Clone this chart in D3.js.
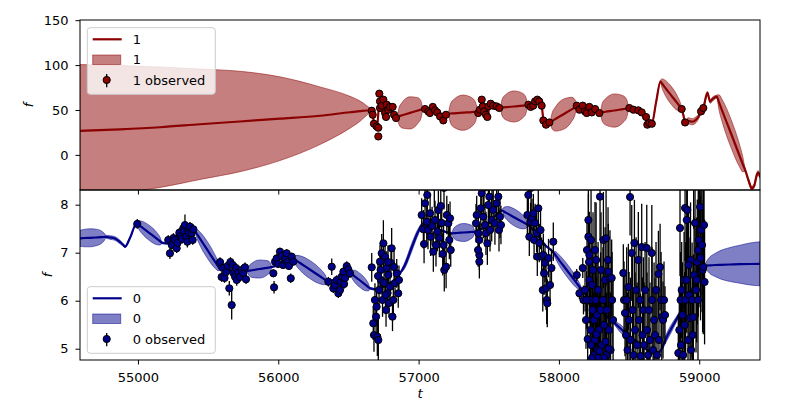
<!DOCTYPE html>
<html><head><meta charset="utf-8">
<script src="https://cdn.jsdelivr.net/npm/d3@7"></script>
<style>body{margin:0;background:#fff}svg{display:block;font-family:"DejaVu Sans",sans-serif}</style>
</head><body><svg id="c" width="800" height="400"></svg>
<script>
// ---------- data ----------
const xTicks=[55000,56000,57000,58000,59000];
const topYTicks=[0,50,100,150];
const botYTicks=[5,6,7,8];
const xDomain=[54587,59433];
const topYDomain=[-39.1,150.2];
const botYDomain=[4.765,8.306];

// series "1" model (top panel)
const topModelT=[54587,54872,55157,55442,55727,56012,56297,56511,56583,56630,56661,
56686,56704,56722,56747,56768,56796,56825,56846,
56861,56883,56939,56995,57017,57032,
57046,57082,57103,57131,57153,57178,57203,
57210,57227,57253,57317,57381,57406,57424,
57434,57452,57473,57491,57509,57538,57573,
57580,57596,57620,57680,57740,57764,57780,
57794,57830,57851,57876,57890,57915,57937,
57952,57975,58033,58091,58113,58129,
58143,58172,58193,58215,58236,58257,58290,
58293,58309,58334,58396,58458,58483,58500,
58528,58564,58592,58621,58635,58662,
58692,58724,
58736,58754,58800,58845,58863,58875,
58888,58899,58920,58949,58977,58999,59013,59029,59058,59077,59098,59125,
59141,59165,59226,59286,59310,59327,
59355,59374,59391,59410,59419,59433];
const topModelMean=[26.8,28.5,30.8,34.1,37.2,40.3,43.6,47.5,48.7,49.4,49.2,
34.7,31.3,61.5,60.4,48.1,51.5,45.9,42.5,
43.2,44.2,46.8,49.4,50.4,51.1,
50.9,48.1,52.6,48.7,43.6,40.3,45.9,
45.9,46.1,46.3,47.0,47.7,47.9,48.1,
49.2,59.3,50.3,44.7,54.8,54.8,52.6,
52.6,52.8,53.1,53.9,54.8,55.1,55.4,
54.8,59.3,61.0,55.9,39.2,34.7,36.4,
37.8,39.9,45.3,50.7,52.8,54.3,
51.5,53.7,47.5,52.6,48.1,50.3,47.0,
47.0,47.4,48.0,49.4,51.0,51.6,52.0,
50.3,49.6,47.5,42.5,34.7,34.7,
58.2,81.7,
79.2,75.5,66.3,57.3,53.6,51.1,
43.6,36.1,38.0,36.9,39.2,43.6,48.4,52.2,69.0,59.6,62.6,64.9,
58.4,48.5,24.1,-0.4,-10.3,-16.8,
-30.2,-37.2,-34.7,-22.4,-19.6,-24.3];
const topModelSd=[73.8,71.0,67.1,61.5,55.9,46.6,32.1,17.7,11.2,5.4,1.1,
1.1,1.1,1.1,1.1,1.1,1.1,1.1,1.1,
9.6,14.3,17.9,14.3,9.6,1.1,
1.1,1.1,1.1,1.1,1.1,1.1,1.1,
1.1,10.6,15.7,19.6,15.7,10.6,1.1,
1.1,1.1,1.1,1.1,1.1,1.1,1.1,
1.1,9.4,13.9,17.3,13.9,9.4,1.1,
1.1,1.1,1.1,1.1,1.1,1.1,1.1,
9.1,13.4,16.8,13.4,9.1,1.1,
1.1,1.1,1.1,1.1,1.1,1.1,1.1,
1.1,10.0,14.8,18.5,14.8,10.0,1.1,
1.1,1.1,1.1,1.1,1.1,1.1,
1.7,1.7,
5.4,8.0,10.0,8.0,5.4,1.1,
1.7,1.7,3.4,3.4,3.4,2.2,1.7,1.7,1.7,2.2,2.2,1.7,
8.5,12.6,15.7,12.6,8.5,1.7,
2.2,2.2,2.2,2.2,2.2,2.2];

// series "1" observed
const topObsT=[56666,56673,56682,56701,56713,56713,56720,56725,56725,56737,56749,56761,56768,56773,56784,56796,56815,56825,56839,
57046,57069,57081,57101,57117,57133,57153,57176,57195,
57425,57437,57450,57457,57466,57480,57490,57497,57514,57532,57556,57575,
57782,57799,57817,57830,57846,57860,57877,57889,57908,57932,
58127,58146,58170,58186,58198,58217,58234,58258,58288,
58502,58531,58566,58590,58621,58630,58645,58662,
58875,58899,59013,59029];
const topObsF=[49.2,44.7,34.7,31.7,20.5,30.2,68.2,59.6,52.2,54.8,61.5,46.6,42.2,55.9,50.3,53.4,53.4,44.7,41.0,
51.1,48.4,46.6,53.4,49.6,47.3,42.8,38.4,44.7,
46.6,50.3,61.5,54.0,48.4,44.7,42.2,54.0,57.0,54.8,54.0,52.2,
55.9,53.4,54.8,59.6,61.5,59.6,54.8,38.4,33.6,36.1,
54.8,50.3,54.8,48.4,46.6,53.4,47.3,51.1,46.6,
52.2,50.3,49.6,47.3,42.2,33.6,35.5,34.7,
51.1,36.1,48.4,52.2];
const topObsErr=[2,2,2,2,3,2,2,2,2,2,2,2,2,2,2,2,2,2,2,
2,2,2,2,2,2,2,2,2,
2,2,2,2,2,2,2,2,2,2,2,2,
2,2,2,2,2,2,2,2,2,2,
2,2,2,2,2,2,2,2,2,
2,2,2,2,2,2,2,2,
2,2,2,2];

// series "0" model (bottom panel)
const botModelT=[54587,54623,54658,54701,54737,54758,54772,54801,54836,54872,54896,54908,54943,54991,
55005,55027,55082,55136,55157,55171,
55205,55252,55300,55348,55395,
55407,55421,55442,55496,55549,55571,55585,
55656,55727,55777,
55792,55813,55866,55920,55941,55955,
56012,56062,56105,
56125,56155,56230,56305,56335,56355,
56392,56440,56476,56511,
56523,56540,56583,56625,56642,56654,
56704,56749,56796,56844,56868,
56903,56951,56996,57032,
57082,57153,57236,
57250,57270,57320,57369,57389,57402,
57459,57509,57552,57595,
57610,57632,57687,57743,57765,57780,
57830,57901,57958,
57975,57999,58061,58123,58148,58165,
58222,58293,58386,
58443,58507,
58578,58649,58699,
58781,58863,
58935,58984,59041,
59056,59077,59113,59148,59220,59291,59362,59433];
const botModelMean=[7.300,7.306,7.310,7.317,7.323,7.327,7.331,7.317,7.296,7.223,7.160,7.125,7.306,7.613,
7.579,7.531,7.410,7.290,7.242,7.208,
7.196,7.265,7.417,7.488,7.473,
7.452,7.388,7.292,7.052,6.815,6.719,6.654,
6.640,6.608,6.619,
6.625,6.635,6.660,6.685,6.696,6.702,
6.779,6.848,6.883,
6.844,6.785,6.640,6.494,6.435,6.396,
6.431,6.488,6.556,6.583,
6.558,6.519,6.421,6.323,6.283,6.258,
6.233,6.292,6.369,6.467,6.571,
6.744,7.108,7.431,7.598,
7.556,7.473,7.404,
7.406,7.410,7.421,7.431,7.435,7.438,
7.515,7.640,7.785,7.879,
7.854,7.819,7.727,7.638,7.602,7.577,
7.431,7.160,7.015,
6.952,6.856,6.619,6.381,6.285,6.223,
6.015,5.806,5.563,
5.410,5.244,
5.098,4.931,4.890,
5.317,5.744,
6.119,6.390,6.723,
6.733,6.738,6.744,6.748,6.754,6.760,6.765,6.769];
const botModelSd=[0.167,0.183,0.188,0.173,0.135,0.083,0.031,0.038,0.038,0.038,0.025,0.02,0.02,0.02,
0.084,0.125,0.156,0.125,0.084,0.02,
0.02,0.02,0.02,0.02,0.02,
0.02,0.094,0.138,0.173,0.138,0.094,0.02,
0.02,0.02,0.02,
0.101,0.15,0.188,0.15,0.101,0.02,
0.02,0.02,0.02,
0.101,0.15,0.188,0.15,0.101,0.02,
0.02,0.02,0.02,0.02,
0.079,0.117,0.146,0.117,0.079,0.02,
0.02,0.02,0.02,0.02,0.02,
0.063,0.083,0.063,0.031,
0.02,0.02,0.02,
0.101,0.15,0.188,0.15,0.101,0.02,
0.02,0.02,0.02,0.02,
0.096,0.142,0.177,0.142,0.096,0.02,
0.02,0.02,0.02,
0.073,0.108,0.135,0.108,0.073,0.02,
0.03,0.03,0.03,
0.083,0.042,
0.02,0.02,0.02,
0.083,0.042,
0.02,0.02,0.031,
0.104,0.177,0.24,0.292,0.354,0.396,0.438,0.458];

// series "0" observed
const botObsT=[54995,
55216,55228,55241,55253,55264,55276,55282,55295,55307,55314,55323,55328,55335,55343,55352,55359,55364,55371,55383,55390,55395,
55585,55596,55606,55617,55628,55638,55651,55659,55668,55675,55681,55692,55699,55704,55715,55727,55739,55751,55763,55770,
55965,55970,55977,55989,55998,56012,56023,56034,56044,56051,56060,56069,56076,56089,56096,56107,
56357,56381,56392,56404,56417,56428,56440,56444,56452,56464,56469,56476,56488,56499,56511,
56666,56677,56682,56689,56697,56701,56706,56713,56718,56725,56732,56737,56743,56749,56754,56761,56768,56773,56779,56784,56789,56796,56803,56808,56814,56820,56825,56832,56844,56855,56860,56729,56711,56782,56764,
57022,57034,57046,57058,57067,57082,57086,57096,57105,57117,57124,57134,57141,57148,57158,57165,57172,57178,57183,57196,57201,57212,57219,57224,57229,57062,57112,57181,57039,
57409,57414,57426,57433,57433,57433,57443,57450,57461,57473,57480,57490,57497,57504,57509,57521,57532,57544,57556,57568,57573,57580,57587,57466,57523,57424,
57775,57782,57789,57798,57808,57818,57823,57830,57841,57846,57853,57860,57869,57877,57885,57889,57894,57901,57908,57913,57917,57926,57937,57947,57960,57801,
58127,58146,58170,58175,58186,58193,58200,58210,58210,58215,58217,58218,58222,58226,58229,58236,58240,58243,58247,58250,58257,58261,58265,58272,58275,58279,58286,58293,58297,58300,58307,58314,58317,58322,58329,58336,58339,58343,58352,58357,58364,58368,58376,58379,58386,58350,58257,58229,58197,58322,58279,58236,58205,58268,58333,58355,58290,
58459,58464,58471,58478,58483,58489,58495,58500,58507,58510,58519,58525,58532,58538,58543,58550,58557,58566,58571,58578,58582,58590,58596,58602,58607,58614,58626,58628,58635,58642,58649,58662,58664,58671,58678,58685,58692,58699,58709,58713,58721,58728,58733,58742,58749,58756,
58851,58858,58863,58867,58870,58875,58881,58885,58892,58896,58899,58903,58911,58911,58915,58920,58927,58935,58938,58942,58949,58958,58963,58970,58977,58982,58986,58993,58998,59006,59009,59013,59020,59024,59029,59034,59038,58991,58953,58924,59000,58960,59030];
const botObsF=[7.60,
7.265,6.988,7.160,7.306,7.265,7.092,7.202,7.417,7.348,7.285,7.508,7.452,7.577,7.333,7.229,7.473,7.410,7.542,7.404,7.265,7.488,
6.806,6.494,6.681,6.473,6.598,6.723,6.258,6.806,5.910,6.744,6.577,6.500,6.681,6.431,6.583,6.494,6.640,6.571,6.696,6.446,
6.571,6.279,6.813,6.883,6.765,7.021,6.931,6.744,6.848,6.890,6.988,6.806,6.723,6.467,6.917,6.813,
6.396,6.708,6.258,6.327,6.431,6.154,6.223,6.390,6.500,6.604,6.348,6.473,6.723,6.654,6.571,
6.696,5.529,5.285,6.015,5.667,5.875,5.250,5.181,6.223,6.813,6.431,6.988,6.015,7.196,6.369,6.917,5.806,6.681,6.160,6.535,5.952,6.292,6.785,7.092,5.667,6.015,6.702,6.369,6.571,6.154,6.431,6.640,6.515,6.806,6.119,
7.785,7.488,8.029,7.646,7.473,7.821,7.333,7.556,7.021,7.681,7.160,7.438,7.890,7.306,7.973,7.619,6.973,7.160,6.640,6.708,7.785,7.613,7.265,7.717,7.056,8.202,8.390,8.350,7.181,
7.613,7.785,7.404,7.265,6.952,6.813,7.925,8.238,7.750,7.577,7.404,7.196,7.994,8.167,7.473,7.681,7.890,7.613,8.029,8.167,7.473,7.750,7.577,8.350,8.390,7.056,
7.785,8.202,7.333,7.640,7.723,7.821,7.265,7.619,7.410,6.917,7.925,7.202,7.473,6.917,6.223,6.952,6.571,6.785,6.258,6.015,5.946,6.890,6.327,6.681,7.229,8.350,
6.535,6.154,6.681,6.015,6.223,5.598,7.056,7.681,7.333,6.806,6.952,6.431,6.015,5.390,5.077,6.327,5.806,6.640,4.869,5.598,5.181,6.015,6.848,5.702,4.973,6.223,5.390,8.167,5.806,6.640,5.077,6.015,7.265,5.494,6.431,7.300,4.869,5.806,6.604,5.390,6.467,4.973,6.473,6.015,5.598,6.848,7.056,7.265,6.015,4.806,4.806,4.806,5.200,5.300,5.150,5.000,4.950,
6.577,6.015,5.744,5.285,6.015,4.973,6.285,5.598,8.160,5.181,6.994,5.806,4.869,7.202,5.390,6.223,5.077,6.848,5.598,6.015,4.848,7.119,5.285,5.806,5.077,6.223,7.098,5.390,4.869,5.806,5.181,6.994,6.015,4.973,5.598,5.285,6.223,4.869,6.556,5.181,6.702,6.015,5.660,5.598,6.015,5.702,
4.910,5.390,7.515,6.015,5.077,6.223,5.702,4.869,6.431,5.494,7.931,6.015,7.681,6.431,7.890,5.181,6.119,5.640,6.848,4.973,6.015,5.660,6.535,7.619,6.223,6.431,6.806,7.056,7.265,7.952,6.890,7.473,7.160,6.640,6.702,7.577,6.390,6.015,5.285,6.744,8.450,8.500,8.400];
const botObsErr=[0.10,
0.10,0.12,0.10,0.10,0.10,0.10,0.12,0.10,0.10,0.10,0.12,0.10,0.22,0.10,0.12,0.10,0.10,0.10,0.10,0.10,0.10,
0.10,0.10,0.10,0.10,0.12,0.10,0.15,0.10,0.30,0.10,0.10,0.12,0.10,0.12,0.10,0.10,0.10,0.12,0.10,0.10,
0.08,0.13,0.08,0.08,0.08,0.08,0.08,0.08,0.08,0.08,0.08,0.08,0.08,0.10,0.08,0.08,
0.10,0.17,0.10,0.10,0.10,0.10,0.10,0.10,0.10,0.10,0.10,0.10,0.10,0.10,0.10,
0.30,0.35,0.35,0.35,0.40,0.35,0.40,0.45,0.35,0.35,0.30,0.40,0.35,0.48,0.35,0.35,0.35,0.35,0.35,0.35,0.30,0.35,0.30,0.42,0.30,0.30,0.35,0.30,0.30,0.30,0.30,0.35,0.35,0.35,0.35,
0.35,0.40,0.45,0.40,0.40,0.40,0.40,0.40,0.42,0.40,0.45,0.40,0.40,0.40,0.45,0.40,0.45,0.40,0.45,0.45,0.40,0.40,0.40,0.35,0.35,0.45,0.45,0.45,0.40,
0.40,0.40,0.40,0.35,0.31,0.35,0.45,0.45,0.45,0.45,0.45,0.45,0.45,0.45,0.45,0.45,0.45,0.45,0.45,0.45,0.45,0.45,0.40,0.45,0.45,0.35,
0.40,0.40,0.40,0.40,0.40,0.40,0.40,0.40,0.40,0.40,0.40,0.40,0.40,0.40,0.45,0.45,0.45,0.40,0.45,0.50,0.50,0.40,0.40,0.40,0.40,0.45,
0.125,0.125,0.21,0.3,0.45,0.6,0.6,0.9,0.9,0.9,0.9,0.9,1.0,1.0,1.1,1.0,1.0,1.2,1.3,1.0,1.2,1.0,1.2,1.2,1.3,1.0,1.2,0.9,1.2,1.2,1.3,1.1,1.0,1.2,1.1,1.0,1.3,1.1,1.0,1.2,1.0,1.2,0.8,1.0,0.9,1.1,1.0,1.1,0.6,1.3,1.3,1.3,1.2,1.2,1.2,1.2,1.2,
0.6,0.8,0.9,1.0,1.1,1.2,0.9,1.0,0.8,1.3,1.0,1.2,1.3,0.9,1.2,1.1,1.3,1.0,1.2,1.1,1.3,0.9,1.2,1.1,1.3,1.0,0.9,1.2,1.3,1.1,1.2,1.0,1.1,1.3,1.2,1.2,1.0,1.3,0.9,1.1,0.9,1.0,1.0,0.8,0.8,0.6,
0.8,0.9,1.0,1.0,1.1,1.0,1.1,1.2,1.0,1.1,1.1,1.2,1.2,1.1,1.2,1.3,1.2,1.3,1.2,1.3,1.2,1.3,1.2,1.4,1.3,1.3,1.3,1.4,1.4,1.4,1.3,1.4,1.4,1.3,1.4,1.4,1.3,1.3,1.2,1.2,1.0,1.0,1.0];

// ---------- drawing ----------
const svg=d3.select("#c");
const L=80,R=760,T1=20,B1=190,T2=190,B2=360;
const x=d3.scaleLinear().domain(xDomain).range([L,R]);
const yTop=d3.scaleLinear().domain(topYDomain).range([B1,T1]);
const yBot=d3.scaleLinear().domain(botYDomain).range([B2,T2]);
const FS=13;

const defs=svg.append("defs");
defs.append("clipPath").attr("id","clipTop").append("rect").attr("x",L).attr("y",T1).attr("width",R-L).attr("height",B1-T1);
defs.append("clipPath").attr("id","clipBot").append("rect").attr("x",L).attr("y",T2).attr("width",R-L).attr("height",B2-T2);

function drawPanel(clip,y,mT,mM,mS,oT,oF,oE,color){
  const g=svg.append("g").attr("clip-path",`url(#${clip})`);
  const model=mT.map((t,i)=>({t,m:mM[i],s:mS[i]}));
  const area=d3.area().x(d=>x(d.t)).y0(d=>y(d.m-d.s)).y1(d=>y(d.m+d.s)).curve(d3.curveMonotoneX);
  g.append("path").datum(model).attr("d",area)
    .attr("fill",color).attr("fill-opacity",0.5)
    .attr("stroke",color).attr("stroke-opacity",0.5).attr("stroke-width",1);
  const line=d3.line().x(d=>x(d.t)).y(d=>y(d.m)).curve(d3.curveMonotoneX);
  g.append("path").datum(model).attr("d",line).attr("fill","none")
    .attr("stroke",color).attr("stroke-width",2.2).attr("stroke-linejoin","round");
  const obs=oT.map((t,i)=>({t,f:oF[i],e:oE[i]}));
  g.append("g").selectAll("line").data(obs).join("line")
    .attr("x1",d=>x(d.t)).attr("x2",d=>x(d.t))
    .attr("y1",d=>y(d.f-d.e)).attr("y2",d=>y(d.f+d.e))
    .attr("stroke","#000").attr("stroke-width",1.3);
  g.append("g").selectAll("circle").data(obs).join("circle")
    .attr("cx",d=>x(d.t)).attr("cy",d=>y(d.f)).attr("r",3.6)
    .attr("fill",color).attr("stroke","#000").attr("stroke-width",1);
}
drawPanel("clipTop",yTop,topModelT,topModelMean,topModelSd,topObsT,topObsF,topObsErr,"#8b0000");
drawPanel("clipBot",yBot,botModelT,botModelMean,botModelSd,botObsT,botObsF,botObsErr,"#00008b");

// axes
function styleAxis(g){
  g.select(".domain").remove();
  g.selectAll("line").attr("stroke","#000").attr("stroke-width",1);
  g.selectAll("text").attr("fill","#000").style("font-size",FS+"px").style("font-family","DejaVu Sans");
}
svg.append("g").attr("transform",`translate(${L},0)`)
  .call(d3.axisLeft(yTop).tickValues(topYTicks).tickSize(4.5).tickPadding(7).tickFormat(d3.format("d")).tickSizeOuter(0)).call(styleAxis);
svg.append("g").attr("transform",`translate(${L},0)`)
  .call(d3.axisLeft(yBot).tickValues(botYTicks).tickSize(4.5).tickPadding(7).tickFormat(d3.format("d")).tickSizeOuter(0)).call(styleAxis);
svg.append("g").attr("transform",`translate(0,${B1})`)
  .call(d3.axisBottom(x).tickValues(xTicks).tickSize(4.5).tickFormat("").tickSizeOuter(0)).call(styleAxis);
svg.append("g").attr("transform",`translate(0,${B2})`)
  .call(d3.axisBottom(x).tickValues(xTicks).tickSize(4.5).tickPadding(8).tickFormat(d3.format("d")).tickSizeOuter(0)).call(styleAxis);

// frames
[[T1,B1],[T2,B2]].forEach(([a,b])=>{
  svg.append("rect").attr("x",L).attr("y",a).attr("width",R-L).attr("height",b-a)
    .attr("fill","none").attr("stroke","#000").attr("stroke-width",1);
});

// axis labels
svg.append("text").attr("transform",`translate(33,${(T1+B1)/2}) rotate(-90)`).attr("text-anchor","middle")
  .style("font-size",FS+"px").style("font-style","italic").text("f");
svg.append("text").attr("transform",`translate(52,${(T2+B2)/2}) rotate(-90)`).attr("text-anchor","middle")
  .style("font-size",FS+"px").style("font-style","italic").text("f");
svg.append("text").attr("x",(L+R)/2).attr("y",398).attr("text-anchor","middle")
  .style("font-size",FS+"px").style("font-style","italic").text("t");

// legends
function legend(y0,color,label){
  const g=svg.append("g");
  g.append("rect").attr("x",87.3).attr("y",y0).attr("width",128).attr("height",66.6).attr("rx",3)
    .attr("fill","#fff").attr("fill-opacity",0.8).attr("stroke","#cccccc").attr("stroke-width",1);
  g.append("line").attr("x1",92.7).attr("x2",121.7).attr("y1",y0+11.6).attr("y2",y0+11.6)
    .attr("stroke",color).attr("stroke-width",2.2);
  g.append("rect").attr("x",92.7).attr("y",y0+27.3).attr("width",28).attr("height",9.5)
    .attr("fill",color).attr("fill-opacity",0.5).attr("stroke",color).attr("stroke-opacity",0.5);
  g.append("line").attr("x1",106.7).attr("x2",106.7).attr("y1",y0+46.3).attr("y2",y0+59.6)
    .attr("stroke","#000").attr("stroke-width",1.3);
  g.append("circle").attr("cx",106.7).attr("cy",y0+52.3).attr("r",3.6)
    .attr("fill",color).attr("stroke","#000");
  [[label,16.3],[label,36.6],[label+" observed",57.2]].forEach(([s,dy])=>{
    g.append("text").attr("x",132.7).attr("y",y0+dy).style("font-size",FS+"px").text(s);
  });
}
legend(27.7,"#8b0000","1");
legend(286.7,"#00008b","0");
</script>
</body></html>
